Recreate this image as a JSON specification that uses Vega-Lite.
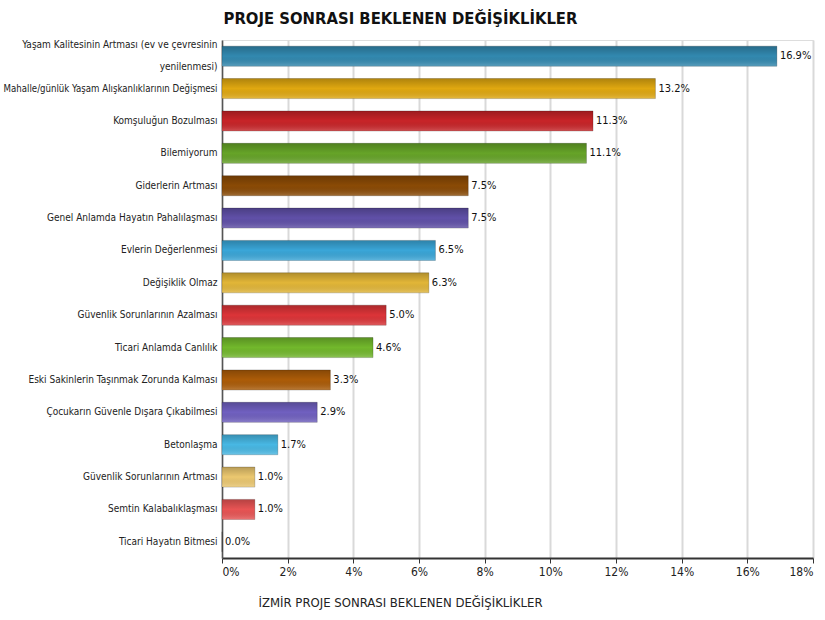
{
  "$schema": "https://vega.github.io/schema/vega-lite/v6.json",
  "autosize": {"type": "none"},
  "width": 591,
  "height": 518,
  "padding": {"left": 222, "top": 40, "right": 12, "bottom": 62},
  "background": "white",
  "title": {
    "text": "PROJE SONRASI BEKLENEN DEĞİŞİKLİKLER",
    "font": "'DejaVu Sans Condensed', 'Liberation Sans', sans-serif",
    "fontSize": 16.5,
    "fontWeight": "bold",
    "color": "#111111",
    "anchor": "middle",
    "dx": -117,
    "offset": 12
  },
  "data": {
    "values": [
      {"kategori": "Yaşam Kalitesinin Artması (ev ve çevresinin yenilenmesi)", "yuzde": 16.9, "renk": "#3289b0"},
      {"kategori": "Mahalle/günlük Yaşam Alışkanlıklarının Değişmesi", "yuzde": 13.2, "renk": "#e0a810"},
      {"kategori": "Komşuluğun Bozulması", "yuzde": 11.3, "renk": "#c82428"},
      {"kategori": "Bilemiyorum", "yuzde": 11.1, "renk": "#66a428"},
      {"kategori": "Giderlerin Artması", "yuzde": 7.5, "renk": "#8a4a05"},
      {"kategori": "Genel Anlamda Hayatın Pahalılaşması", "yuzde": 7.5, "renk": "#6050a8"},
      {"kategori": "Evlerin Değerlenmesi", "yuzde": 6.5, "renk": "#3aa6d8"},
      {"kategori": "Değişiklik Olmaz", "yuzde": 6.3, "renk": "#e2b638"},
      {"kategori": "Güvenlik Sorunlarının Azalması", "yuzde": 5.0, "renk": "#dc3438"},
      {"kategori": "Ticari Anlamda Canlılık", "yuzde": 4.6, "renk": "#72b82c"},
      {"kategori": "Eski Sakinlerin Taşınmak Zorunda Kalması", "yuzde": 3.3, "renk": "#ac5c08"},
      {"kategori": "Çocukarın Güvenle Dışara Çıkabilmesi", "yuzde": 2.9, "renk": "#7060c0"},
      {"kategori": "Betonlaşma", "yuzde": 1.7, "renk": "#48b8e4"},
      {"kategori": "Güvenlik Sorunlarının Artması", "yuzde": 1.0, "renk": "#ecc870"},
      {"kategori": "Semtin Kalabalıklaşması", "yuzde": 1.0, "renk": "#e85454"},
      {"kategori": "Ticari Hayatın Bitmesi", "yuzde": 0.0, "renk": "#888888"}
    ]
  },
  "encoding": {
    "y": {
      "field": "kategori",
      "type": "nominal",
      "sort": null,
      "scale": {"paddingInner": 0.38, "paddingOuter": 0.19},
      "axis": {
        "title": null,
        "ticks": false,
        "domain": true,
        "domainColor": "#555555",
        "domainWidth": 1.5,
        "labelFont": "'DejaVu Sans Condensed', 'Liberation Sans', sans-serif",
        "labelFontSize": {"condition": {"test": "indexof(datum.label, 'Mahalle') == 0", "value": 9.6}, "value": 10},
        "labelColor": "#222222",
        "labelPadding": 5,
        "labelLimit": 260,
        "labelLineHeight": 22,
        "labelOffset": {"condition": {"test": "indexof(datum.label, '(ev ve') > 0", "value": -11}, "value": 0},
        "labelExpr": "indexof(datum.label, '(ev ve') > 0 ? ['Yaşam Kalitesinin Artması (ev ve çevresinin', 'yenilenmesi)'] : datum.label"
      }
    },
    "x": {
      "field": "yuzde",
      "type": "quantitative",
      "scale": {"domain": [0, 18], "nice": false},
      "axis": {
        "values": [0, 2, 4, 6, 8, 10, 12, 14, 16, 18],
        "labelExpr": "datum.value + '%'",
        "grid": true,
        "gridColor": "#d9d9d9",
        "gridWidth": 2,
        "domainColor": "#333333",
        "domainWidth": 2,
        "tickColor": "#333333",
        "tickSize": 5,
        "labelFont": "'DejaVu Sans Condensed', 'Liberation Sans', sans-serif",
        "labelFontSize": 12,
        "labelColor": "#222222",
        "labelPadding": 3,
        "title": "İZMİR PROJE SONRASI BEKLENEN DEĞİŞİKLİKLER",
        "titleFont": "'DejaVu Sans Condensed', 'Liberation Sans', sans-serif",
        "titleFontSize": 13,
        "titleFontWeight": "normal",
        "titleColor": "#222222",
        "titleX": 178,
        "titleY": 38,
        "titleAnchor": "middle"
      }
    }
  },
  "layer": [
    {
      "mark": {"type": "bar", "stroke": "#00000033", "strokeWidth": 1},
      "encoding": {
        "color": {"field": "renk", "type": "nominal", "scale": null, "legend": null}
      }
    },
    {
      "mark": {
        "type": "bar",
        "fill": {
          "gradient": "linear",
          "x1": 0, "y1": 0, "x2": 0, "y2": 1,
          "stops": [
            {"offset": 0, "color": "rgba(0,0,0,0.22)"},
            {"offset": 0.5, "color": "rgba(0,0,0,0)"},
            {"offset": 1, "color": "rgba(255,255,255,0.2)"}
          ]
        }
      }
    },
    {
      "mark": {
        "type": "text",
        "align": "left",
        "baseline": "middle",
        "dx": 3,
        "font": "'DejaVu Sans Condensed', 'Liberation Sans', sans-serif",
        "fontSize": 11,
        "color": "#111111",
        "text": {"expr": "format(datum.yuzde, '.1f') + '%'"}
      },
      "encoding": {
        "x": {"field": "yuzde", "type": "quantitative"}
      }
    }
  ]
}
